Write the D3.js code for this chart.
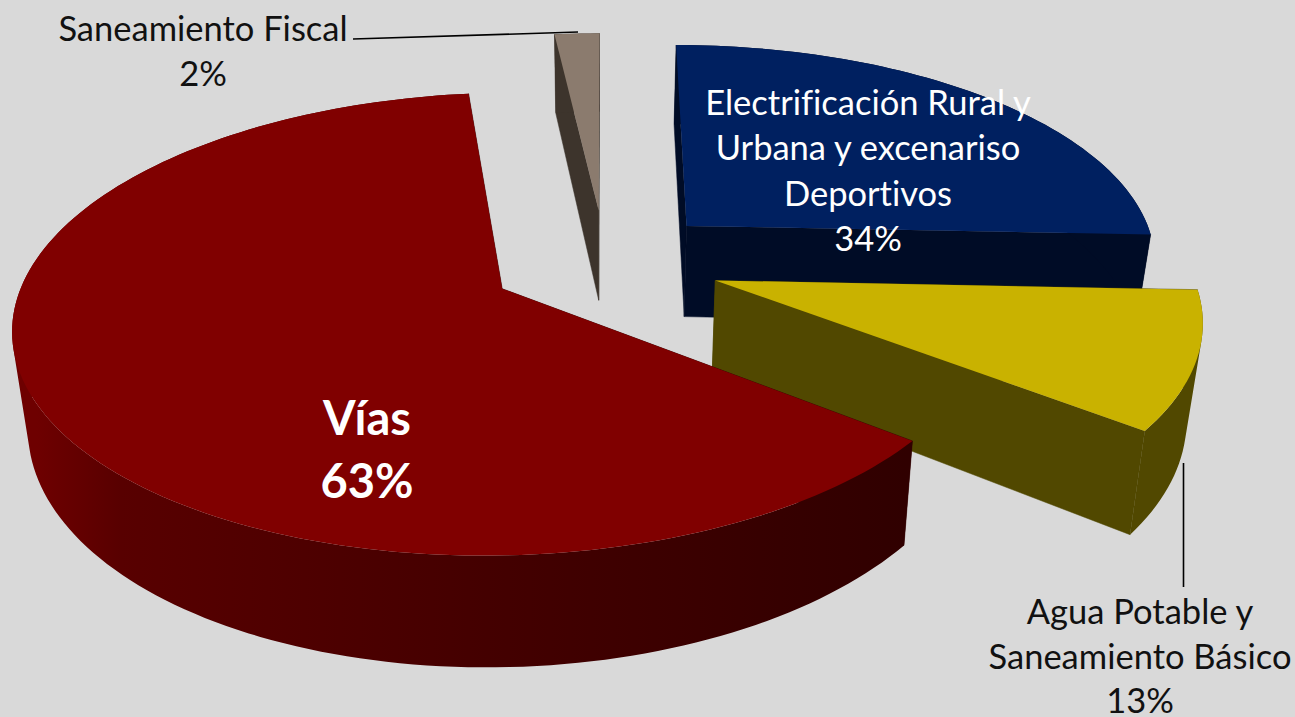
<!DOCTYPE html>
<html>
<head>
<meta charset="utf-8">
<script src="https://cdn.jsdelivr.net/npm/d3@7"></script>
<style>
  html, body { margin: 0; padding: 0; background: #d9d9d9; }
  svg { display: block; }
  text { font-family: Lato, "Open Sans", sans-serif; font-variant-ligatures: none; }
</style>
</head>
<body>
<div id="chart"></div>
<script>
// clockwise from 12 o'clock. shares are read from the slice angles, the printed
// labels do not add up to 100 (34% is drawn smaller than that)
const categories = ["Electrificación", "Agua", "Vías", "Saneamiento"];
const shares = [25.65, 9.8, 62.75, 1.8];
const percentLabels = ["34%", "13%", "63%", "2%"];

const topColors = ["#002060", "#c9b200", "#800000", "#8b7b6e"];
const cutColors = ["#000c26", "#514800", "#300000", "#3d342c"];

const viasWallAngles = [127, 180, 225, 270];
const viasWallColors = ["#300000", "#440000", "#580000", "#6e0000"];

const width = 1295,
  height = 717;

const cx = 605,
  cy = 262,
  radius = 473,
  tilt = 218,
  persp = 0.15,
  explode = 0.245,
  depth = 93,
  vanishX = 600,
  wallShrink = 0.973;

const svg = d3
  .select("#chart")
  .append("svg")
  .attr("width", width)
  .attr("height", height);

svg.append("rect").attr("width", width).attr("height", height).attr("fill", "#d9d9d9");

// ground coords (x right, z away from viewer), unit radius
function project(x, z, low) {
  const s = 1 / (1 + persp * z);
  const px = cx + radius * x * s;
  const py = cy - tilt * z * s;
  if (!low) return [px, py];
  return [vanishX + (px - vanishX) * wallShrink, py + depth * s];
}

const arcs = d3.pie().sort(null)(shares);
const line = d3.line();

function rimPoint(a, t, low) {
  const mid = (a.startAngle + a.endAngle) / 2;
  return project(
    explode * Math.sin(mid) + Math.sin(t),
    explode * Math.cos(mid) + Math.cos(t),
    low
  );
}

function rimPoints(a, low) {
  const n = Math.max(4, Math.ceil((a.endAngle - a.startAngle) * 40));
  return d3.range(n + 1).map((i) => {
    const t = a.startAngle + ((a.endAngle - a.startAngle) * i) / n;
    return rimPoint(a, t, low);
  });
}

function apex(a, low) {
  const mid = (a.startAngle + a.endAngle) / 2;
  return project(explode * Math.sin(mid), explode * Math.cos(mid), low);
}

// wall of the big slice gets lighter towards the left
const rad = (deg) => (deg * Math.PI) / 180;
const wallX = viasWallAngles.map((deg) => rimPoint(arcs[2], rad(deg), true)[0]);
const wallOffset = d3
  .scaleLinear()
  .domain([wallX[0], wallX[wallX.length - 1]])
  .range([0, 1]);

const gradient = svg
  .append("defs")
  .append("linearGradient")
  .attr("id", "viasWall")
  .attr("gradientUnits", "userSpaceOnUse")
  .attr("x1", wallX[0])
  .attr("x2", wallX[wallX.length - 1])
  .attr("y1", 0)
  .attr("y2", 0);

gradient
  .selectAll("stop")
  .data(viasWallColors)
  .join("stop")
  .attr("offset", (d, i) => wallOffset(wallX[i]))
  .attr("stop-color", (d) => d);

// back to front
const order = [3, 0, 1, 2];

order.forEach((i) => {
  const a = arcs[i];
  const g = svg.append("g").attr("class", "slice-" + i);
  const top = rimPoints(a, false),
    low = rimPoints(a, true);
  const last = top.length - 1;

  const face = (pts, color) =>
    g
      .append("path")
      .attr("d", line(pts) + "Z")
      .attr("fill", color)
      .attr("stroke", color)
      .attr("stroke-width", 0.5);

  face([apex(a, false), top[0], low[0], apex(a, true)], cutColors[i]);
  face([apex(a, false), top[last], low[last], apex(a, true)], cutColors[i]);

  // all quads wound the same way in one path, so the fold at the silhouette
  // does not cancel and there are no seams between them
  const wall = d3.range(last).map((j) => {
    const quad = [top[j], top[j + 1], low[j + 1], low[j]];
    return d3.polygonArea(quad) < 0 ? quad.reverse() : quad;
  });
  g.append("path")
    .attr("d", wall.map((q) => line(q) + "Z").join(""))
    .attr("fill", i === 2 ? "url(#viasWall)" : cutColors[i]);

  g.append("path")
    .attr("d", line([apex(a, false), ...top]) + "Z")
    .attr("fill", topColors[i]);
});

// leader lines
const leaders = [
  [[353, 39], [578, 32]],
  [[1183.5, 463], [1183.5, 587]],
];
svg
  .selectAll("path.leader")
  .data(leaders)
  .join("path")
  .attr("class", "leader")
  .attr("d", (d) => line(d))
  .attr("fill", "none")
  .attr("stroke", "#000")
  .attr("stroke-width", 1.6);

function label(lines, x, y0, step, size, color, weight) {
  svg
    .append("text")
    .attr("text-anchor", "middle")
    .attr("fill", color)
    .attr("font-size", size)
    .attr("font-weight", weight)
    .selectAll("tspan")
    .data(lines)
    .join("tspan")
    .attr("x", x)
    .attr("y", (d, i) => y0 + i * step)
    .text((d) => d);
}

label(["Saneamiento Fiscal", percentLabels[3]], 203, 41, 45, 34.5, "#111", 400);
label(
  ["Electrificación Rural y", "Urbana y excenariso", "Deportivos", percentLabels[0]],
  868, 115, 45.3, 34.5, "#fff", 400
);
label(["Vías", percentLabels[2]], 367, 435, 63, 47, "#fff", 700);
label(["Agua Potable y", "Saneamiento Básico", percentLabels[1]], 1140, 624, 44.6, 34.5, "#111", 400);
</script>
</body>
</html>
